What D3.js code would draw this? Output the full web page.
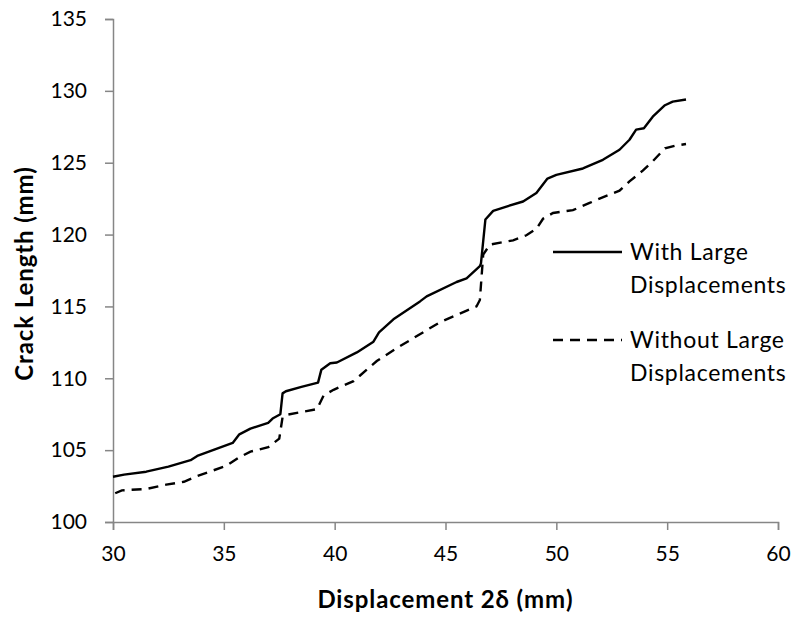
<!DOCTYPE html>
<html>
<head>
<meta charset="utf-8">
<script src="https://cdn.jsdelivr.net/npm/d3@7"></script>
<style>
  html, body { margin: 0; padding: 0; background: #fff; }
  svg text { font-family: Lato, "Open Sans", sans-serif; fill: #000; }
</style>
</head>
<body>
<svg id="chart" width="797" height="617"></svg>
<script>
// Crack length vs. displacement, with and without large-displacement effects
const xTicks = [30, 35, 40, 45, 50, 55, 60];
const yTicks = [100, 105, 110, 115, 120, 125, 130, 135];

const seriesNames = ["With Large\nDisplacements", "Without Large\nDisplacements"];

const withLargeX = [30.0, 30.5, 31.5, 32.5, 33.5, 33.8, 34.6, 35.4, 35.7, 36.2, 37.0, 37.2, 37.55, 37.65, 37.8, 38.5, 39.25, 39.4, 39.8, 40.1, 41.0, 41.75, 42.0, 42.65, 43.85, 44.15, 45.5, 45.95, 46.55, 46.6, 46.8, 47.15, 47.75, 48.5, 49.1, 49.6, 50.0, 51.2, 52.1, 52.85, 53.3, 53.6, 53.95, 54.35, 54.9, 55.25, 55.85];
const withLargeY = [103.15, 103.3, 103.5, 103.85, 104.3, 104.6, 105.05, 105.5, 106.1, 106.5, 106.9, 107.2, 107.5, 108.95, 109.1, 109.4, 109.7, 110.6, 111.05, 111.1, 111.8, 112.55, 113.2, 114.1, 115.35, 115.7, 116.7, 116.95, 117.8, 118.0, 121.05, 121.65, 121.95, 122.3, 122.9, 123.9, 124.15, 124.6, 125.2, 125.9, 126.6, 127.3, 127.4, 128.2, 129.0, 129.25, 129.4];

const withoutLargeX = [30.1, 30.4, 31.5, 32.4, 33.2, 33.8, 35.1, 35.7, 36.2, 37.0, 37.5, 37.65, 37.8, 39.2, 39.5, 39.95, 40.85, 41.9, 42.8, 44.75, 45.5, 46.4, 46.55, 46.7, 47.0, 48.05, 48.65, 49.1, 49.4, 49.85, 50.75, 51.5, 51.95, 52.85, 53.3, 53.9, 54.35, 54.9, 55.4, 55.85];
const withoutLargeY = [102.0, 102.2, 102.3, 102.6, 102.8, 103.2, 103.9, 104.5, 104.9, 105.2, 105.8, 107.3, 107.45, 107.85, 108.8, 109.2, 109.8, 111.2, 112.1, 113.9, 114.4, 115.0, 115.45, 118.6, 119.3, 119.6, 119.95, 120.4, 121.1, 121.5, 121.7, 122.2, 122.5, 123.05, 123.7, 124.45, 125.1, 126.0, 126.2, 126.3];

const svg = d3.select("#chart");
const plotLeft = 113, plotRight = 778, plotTop = 19, plotBottom = 522;
const axisColor = "#868686";

const x = d3.scaleLinear().domain([30, 60]).range([plotLeft, plotRight]);
const y = d3.scaleLinear().domain([100, 135]).range([plotBottom, plotTop]);

// y axis
const yAxis = svg.append("g")
  .attr("transform", `translate(${plotLeft},0)`)
  .call(d3.axisLeft(y).tickValues(yTicks).tickSize(8).tickPadding(18).tickFormat(d3.format("d")));
// x axis
const xAxis = svg.append("g")
  .attr("transform", `translate(0,${plotBottom})`)
  .call(d3.axisBottom(x).tickValues(xTicks).tickSize(8).tickPadding(16).tickFormat(d3.format("d")));

[xAxis, yAxis].forEach(g => {
  g.select(".domain").attr("stroke", axisColor).attr("stroke-width", 1.5);
  g.selectAll(".tick line").attr("stroke", axisColor).attr("stroke-width", 1.5);
  g.selectAll(".tick text").attr("font-size", 21).attr("fill", "#000")
    .style("font-family", "Lato, 'Open Sans', sans-serif");
});

// axis titles
svg.append("text")
  .attr("x", (plotLeft + plotRight) / 2).attr("y", 608)
  .attr("text-anchor", "middle").attr("font-size", 24).attr("font-weight", "bold")
  .attr("letter-spacing", 0.9)
  .text("Displacement 2δ (mm)");
svg.append("text")
  .attr("transform", `translate(33,${(plotTop + plotBottom) / 2 + 3}) rotate(-90)`)
  .attr("text-anchor", "middle").attr("font-size", 24).attr("font-weight", "bold")
  .attr("letter-spacing", 0.9)
  .text("Crack Length (mm)");

const line = d3.line().x(d => x(d[0])).y(d => y(d[1]));
const withLarge = withLargeX.map((v, i) => [v, withLargeY[i]]);
const withoutLarge = withoutLargeX.map((v, i) => [v, withoutLargeY[i]]);

svg.append("path").datum(withLarge)
  .attr("d", line).attr("fill", "none").attr("stroke", "#000")
  .attr("stroke-width", 2.4).attr("stroke-linejoin", "round");
svg.append("path").datum(withoutLarge)
  .attr("d", line).attr("fill", "none").attr("stroke", "#000")
  .attr("stroke-width", 2.4).attr("stroke-dasharray", "10,7");

// legend
const legend = [
  { name: seriesNames[0], dash: null, ly: 252 },
  { name: seriesNames[1], dash: "10,7", ly: 340 }
];
legend.forEach(item => {
  svg.append("line")
    .attr("x1", 553).attr("x2", 622).attr("y1", item.ly).attr("y2", item.ly)
    .attr("stroke", "#000").attr("stroke-width", 2.4)
    .attr("stroke-dasharray", item.dash);
  const t = svg.append("text").attr("x", 630).attr("y", item.ly + 8)
    .attr("font-size", 23).attr("letter-spacing", 0.7);
  item.name.split("\n").forEach((s, i) => {
    t.append("tspan").attr("x", 630).attr("dy", i === 0 ? 0 : 33).text(s);
  });
});
</script>
</body>
</html>
